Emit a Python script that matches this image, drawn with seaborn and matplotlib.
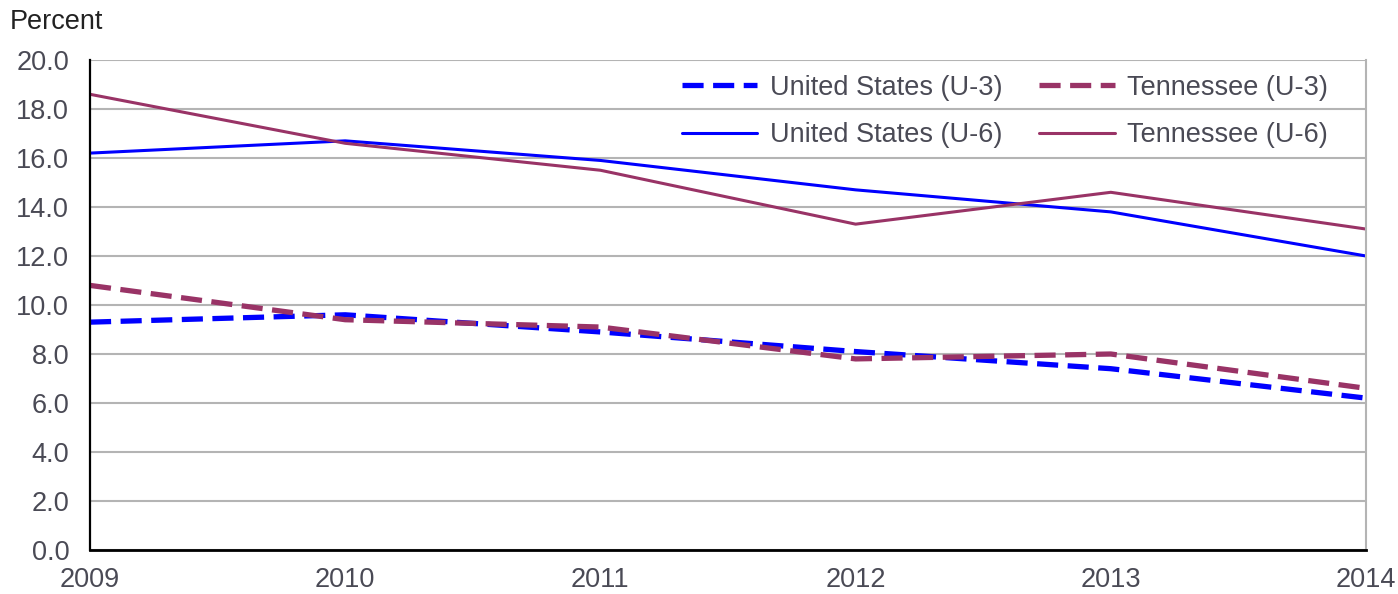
import seaborn as sns
import pandas as pd
import numpy as np
import matplotlib
matplotlib.use("Agg")
import matplotlib.pyplot as plt
from matplotlib.ticker import FormatStrFormatter

# donnees
years = [2009, 2010, 2011, 2012, 2013, 2014]
us_u3 = [9.3, 9.6, 8.9, 8.1, 7.4, 6.2]
tn_u3 = [10.8, 9.4, 9.1, 7.8, 8.0, 6.6]
us_u6 = [16.2, 16.7, 15.9, 14.7, 13.8, 12.0]
tn_u6 = [18.6, 16.6, 15.5, 13.3, 14.6, 13.1]

blue = "#0000ff"
maroon = "#993366"

sns.set_theme(style="white")
plt.rcParams['font.family'] = ['Liberation Sans', 'DejaVu Sans']

fig = plt.figure(figsize=(13.98, 5.94), dpi=100)
ax = fig.add_axes([90/1398, 44/594, (1366-90)/1398, (550-60)/594])

series = [
    ("United States (U-3)", us_u3, blue, "dash"),
    ("United States (U-6)", us_u6, blue, "solid"),
    ("Tennessee (U-3)", tn_u3, maroon, "dash"),
    ("Tennessee (U-6)", tn_u6, maroon, "solid"),
]
for label, vals, col, st in series:
    df = pd.DataFrame({"annee": years, "valeur": vals})
    if st == "dash":
        sns.lineplot(data=df, x="annee", y="valeur", ax=ax, color=col, lw=3.8,
                     linestyle=(0, (4.0, 1.8)), label=label)
    else:
        sns.lineplot(data=df, x="annee", y="valeur", ax=ax, color=col, lw=2.2,
                     label=label)

ax.set_xlim(2009, 2014)
ax.set_ylim(0, 20)
ax.set_xticks(years)
ax.set_yticks(np.arange(0, 21, 2))
ax.yaxis.set_major_formatter(FormatStrFormatter("%.1f"))
ax.set_xlabel("")
ax.set_ylabel("")
ax.yaxis.grid(True, color="#b4b4b4", lw=1.5)
ax.set_axisbelow(True)
ax.tick_params(length=0, labelsize=19.5, colors="#4a4a55")
ax.tick_params(axis="y", pad=15)
ax.tick_params(axis="x", pad=12)

ax.spines["left"].set_color("black")
ax.spines["left"].set_linewidth(1.6)
ax.spines["bottom"].set_color("black")
ax.spines["bottom"].set_linewidth(2)
ax.spines["right"].set_color("#b4b4b4")
ax.spines["right"].set_linewidth(1.5)
ax.spines["top"].set_visible(False)

ax.legend(ncol=2, loc="upper right", bbox_to_anchor=(0.989, 1.02), frameon=False,
          fontsize=19.5, handlelength=2.8, handletextpad=0.45, columnspacing=1.35,
          labelspacing=0.8, labelcolor="#4a4a55")

fig.text(10/1398, 1 - 22/594, "Percent", fontsize=19.5, color="#222222", va="center", ha="left")

fig.savefig("out.png", dpi=100)
